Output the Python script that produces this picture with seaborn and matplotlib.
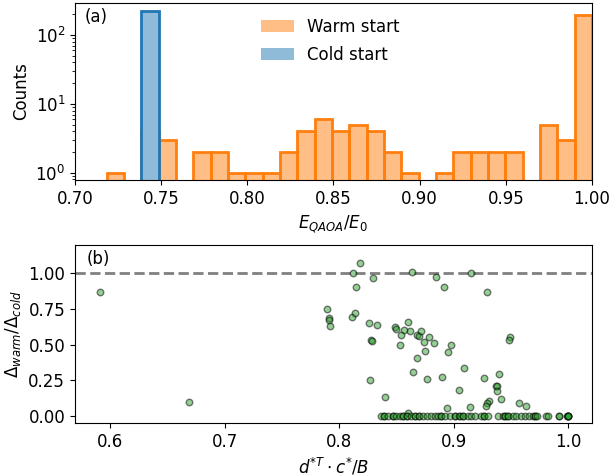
import numpy as np
import pandas as pd
import matplotlib
matplotlib.use("Agg")
import matplotlib.pyplot as plt
import seaborn as sns
from matplotlib.patches import Patch

# ---------------- data ----------------
# histogram bins (28 equal bins from the minimum ratio up to 1.0)
bin_edges = list(np.linspace(0.7184, 1.0, 29))
warm_counts = [1, 0, 4, 3, 0, 2, 2, 1, 1, 1, 2, 4, 6, 4,
               5, 4, 2, 1, 0, 1, 2, 2, 2, 2, 0, 5, 3, 196]
cold_counts = [0, 0, 227, 0, 0, 0, 0, 0, 0, 0, 0, 0, 0, 0,
               0, 0, 0, 0, 0, 0, 0, 0, 0, 0, 0, 0, 0, 0]

# scatter: points with non-zero ratio
scatter_x_nonzero = [0.5913, 0.6693, 0.7895, 0.7907, 0.7910, 0.7916, 0.8111, 0.8140,
                     0.8120, 0.8178, 0.8148, 0.8294, 0.8256, 0.8332, 0.8280, 0.8282,
                     0.8271, 0.8396, 0.8483, 0.8492, 0.8597, 0.8565, 0.8617, 0.8541,
                     0.8527, 0.8681, 0.8696, 0.8716, 0.8740, 0.8783, 0.8827, 0.8748,
                     0.8678, 0.8643, 0.8769, 0.8897, 0.8978, 0.8946, 0.9086, 0.9042,
                     0.8943, 0.9138, 0.9264, 0.9397, 0.9371, 0.9373, 0.9377, 0.9412,
                     0.9304, 0.9293, 0.9284, 0.9488, 0.9479, 0.9566, 0.9627, 0.8635,
                     0.8847, 0.8911, 0.9153, 0.9293, 0.8597]
scatter_y_nonzero = [0.867, 0.098, 0.750, 0.683, 0.670, 0.629, 0.694, 0.718,
                     0.998, 1.072, 0.904, 0.963, 0.648, 0.636, 0.531, 0.527,
                     0.252, 0.135, 0.625, 0.608, 0.655, 0.601, 0.594, 0.564,
                     0.494, 0.566, 0.562, 0.597, 0.515, 0.552, 0.508, 0.457,
                     0.403, 0.308, 0.261, 0.275, 0.499, 0.450, 0.338, 0.184,
                     0.058, 0.061, 0.268, 0.294, 0.212, 0.208, 0.175, 0.119,
                     0.107, 0.093, 0.072, 0.550, 0.531, 0.093, 0.072, 1.007,
                     0.972, 0.904, 0.998, 0.867, 0.019]
# scatter: points with zero ratio (x positions only)
scatter_x_zero = [0.8361, 0.8390, 0.8390, 0.8425, 0.8469, 0.8469, 0.8498, 0.8527,
                  0.8556, 0.8556, 0.8594, 0.8594, 0.8629, 0.8664, 0.8664, 0.8693,
                  0.8693, 0.8731, 0.8769, 0.8803, 0.8833, 0.8862, 0.8891, 0.8891,
                  0.8926, 0.8963, 0.9007, 0.9013, 0.9042, 0.9051, 0.9080, 0.9080,
                  0.9124, 0.9153, 0.9182, 0.9240, 0.9260, 0.9260, 0.9298, 0.9386,
                  0.9429, 0.9450, 0.9450, 0.9473, 0.9473, 0.9517, 0.9546, 0.9590,
                  0.9624, 0.9654, 0.9691, 0.9706, 0.9706, 0.9729, 0.9808, 0.9823,
                  0.9916, 0.9916, 0.9983, 1.0, 1.0, 1.0, 1.0]

plt.rcParams['font.size'] = 12
plt.rcParams['font.family'] = ['DejaVu Sans']

fig = plt.figure(figsize=(6.13, 4.76), dpi=100)
ax1 = fig.add_axes([0.1223, 0.6218, 0.8434, 0.3719])
ax2 = fig.add_axes([0.1223, 0.1113, 0.8434, 0.3740])

edges_arr = np.array(bin_edges)
centers = 0.5 * (edges_arr[:-1] + edges_arr[1:])
hist_df = pd.DataFrame({'center': centers,
                        'warm': np.array(warm_counts, dtype=float),
                        'cold': np.array(cold_counts, dtype=float)})
c_orange = '#ff7f0e'
c_blue = '#1f77b4'

sns.histplot(data=hist_df, x='center', weights='warm', bins=bin_edges, ax=ax1,
             facecolor=(1.0, 0.498, 0.055, 0.5), edgecolor=c_orange, linewidth=2)
sns.histplot(data=hist_df, x='center', weights='cold', bins=bin_edges, ax=ax1,
             facecolor='#8fbbd9', edgecolor=c_blue, linewidth=2)
ax1.set_yscale('log')
ax1.set_xlim(0.70, 1.00)
ax1.set_ylim(0.783, 292)
ax1.set_xticks([0.70, 0.75, 0.80, 0.85, 0.90, 0.95, 1.00])
ax1.set_xticklabels(['0.70', '0.75', '0.80', '0.85', '0.90', '0.95', '1.00'])
ax1.set_xlabel(r'$E_{QAOA}/E_0$')
ax1.set_ylabel('Counts')
ax1.text(0.018, 0.92, '(a)', transform=ax1.transAxes, va='center', ha='left')
handles = [Patch(facecolor=(1.0, 0.498, 0.055, 0.5), edgecolor='none'),
           Patch(facecolor='#8fbbd9', edgecolor='none')]
ax1.legend(handles, ['Warm start', 'Cold start'], loc='upper left',
           bbox_to_anchor=(0.33, 1.0), frameon=False, labelspacing=0.6)

sx = scatter_x_nonzero + scatter_x_zero
sy = scatter_y_nonzero + [0.0] * len(scatter_x_zero)
df = pd.DataFrame({'x': sx, 'y': sy})
ax2.axhline(1.0, color='gray', linestyle='--', linewidth=2, zorder=1)
sns.scatterplot(data=df, x='x', y='y', ax=ax2, color='#2ca02c', alpha=0.5,
                edgecolor='k', s=22, linewidth=1, zorder=2)
ax2.set_ylim(-0.049, 1.196)
ax2.set_xlim(0.5695, 1.0205)
ax2.set_xticks([0.6, 0.7, 0.8, 0.9, 1.0])
ax2.set_yticks([0.0, 0.25, 0.5, 0.75, 1.0])
ax2.set_yticklabels(['0.00', '0.25', '0.50', '0.75', '1.00'])
ax2.set_xlabel(r'$d^{*T} \cdot c^{*}/B$')
ax2.set_ylabel(r'$\Delta_{warm}/\Delta_{cold}$')
ax2.text(0.023, 0.92, '(b)', transform=ax2.transAxes, va='center', ha='left')

fig.savefig('out.png', dpi=100)
